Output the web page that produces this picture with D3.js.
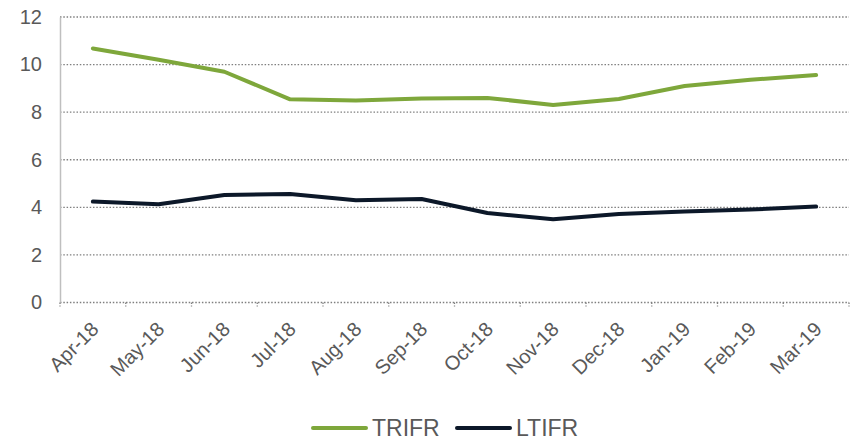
<!DOCTYPE html>
<html lang="en">
<head>
<meta charset="UTF-8">
<title>TRIFR / LTIFR</title>
<script src="https://d3js.org/d3.v7.min.js"></script>
<style>
    body { margin: 0; background: #fff; font-family: 'Liberation Sans', Arial, sans-serif; }
    .grid line { stroke: #7f7f7f; stroke-width: 1.3; stroke-dasharray: 1.5 1.8; }
    .axis text { fill: #595959; font-family: 'Liberation Sans', Arial, sans-serif; }
    .line { fill: none; stroke-width: 4; stroke-linejoin: round; stroke-linecap: round; }
</style>
</head>
<body>
<svg id="chart" width="856" height="440"></svg>
<script>
    var months = ["Apr-18", "May-18", "Jun-18", "Jul-18", "Aug-18", "Sep-18",
                  "Oct-18", "Nov-18", "Dec-18", "Jan-19", "Feb-19", "Mar-19"];
    var trifr = [10.68, 10.2, 9.7, 8.54, 8.49, 8.57, 8.6, 8.3, 8.55, 9.1, 9.36, 9.56];
    var ltifr = [4.24, 4.13, 4.52, 4.56, 4.3, 4.35, 3.76, 3.5, 3.72, 3.83, 3.91, 4.03];
    var yTicks = [0, 2, 4, 6, 8, 10, 12];

    var series = [
        { name: "TRIFR", values: trifr, color: "#7ea73b" },
        { name: "LTIFR", values: ltifr, color: "#0c1829" }
    ];

    var plotLeft = 60, plotRight = 849, plotTop = 17, plotBottom = 302.5;
    var svg = d3.select("#chart");

    var x = d3.scaleBand().domain(months).range([plotLeft, plotRight]);
    var y = d3.scaleLinear().domain([0, 12]).range([plotBottom, plotTop]);

    // horizontal gridlines
    svg.append("g").attr("class", "grid")
        .selectAll("line").data(yTicks).enter().append("line")
        .attr("x1", plotLeft).attr("x2", plotRight)
        .attr("y1", d => y(d)).attr("y2", d => y(d));

    // y axis
    var yAxis = svg.append("g").attr("class", "axis")
        .attr("transform", "translate(" + plotLeft + ",0)")
        .call(d3.axisLeft(y).tickValues(yTicks).tickSize(0).tickPadding(18));
    yAxis.select(".domain").attr("stroke", "#bfbfbf").attr("stroke-width", 1.5);
    yAxis.selectAll("text").style("font-size", "20px");

    // category boundary ticks
    var bounds = months.map(m => x(m)).concat([plotRight]);
    svg.append("g").selectAll("line").data(bounds).enter().append("line")
        .attr("x1", d => d).attr("x2", d => d)
        .attr("y1", plotBottom).attr("y2", plotBottom + 4)
        .attr("stroke", "#7f7f7f").attr("stroke-width", 1.3)
        .attr("stroke-dasharray", "1.5 1.5");

    // x labels
    svg.append("g").attr("class", "axis")
        .selectAll("text").data(months).enter().append("text")
        .attr("transform", d => "translate(" + (x(d) + x.bandwidth() / 2 + 2) + "," + (plotBottom + 23) + ") rotate(-45)")
        .attr("text-anchor", "end")
        .attr("dy", "0.35em")
        .style("font-size", "20px")
        .text(d => d);

    var line = d3.line()
        .x((d, i) => x(months[i]) + x.bandwidth() / 2)
        .y(d => y(d));

    svg.selectAll("path.line").data(series).enter().append("path")
        .attr("class", "line")
        .attr("stroke", d => d.color)
        .attr("d", d => line(d.values));

    // legend
    var legendX = [313, 457];
    var legend = svg.selectAll("g.legend").data(series).enter().append("g")
        .attr("class", "legend")
        .attr("transform", (d, i) => "translate(" + legendX[i] + ",428)");
    legend.append("line")
        .attr("x1", 0).attr("x2", 53)
        .attr("stroke", d => d.color).attr("stroke-width", 4).attr("stroke-linecap", "round");
    legend.append("text")
        .attr("x", 59).attr("dy", "0.36em")
        .attr("fill", "#595959").style("font-size", "23px")
        .text(d => d.name);
</script>
</body>
</html>
